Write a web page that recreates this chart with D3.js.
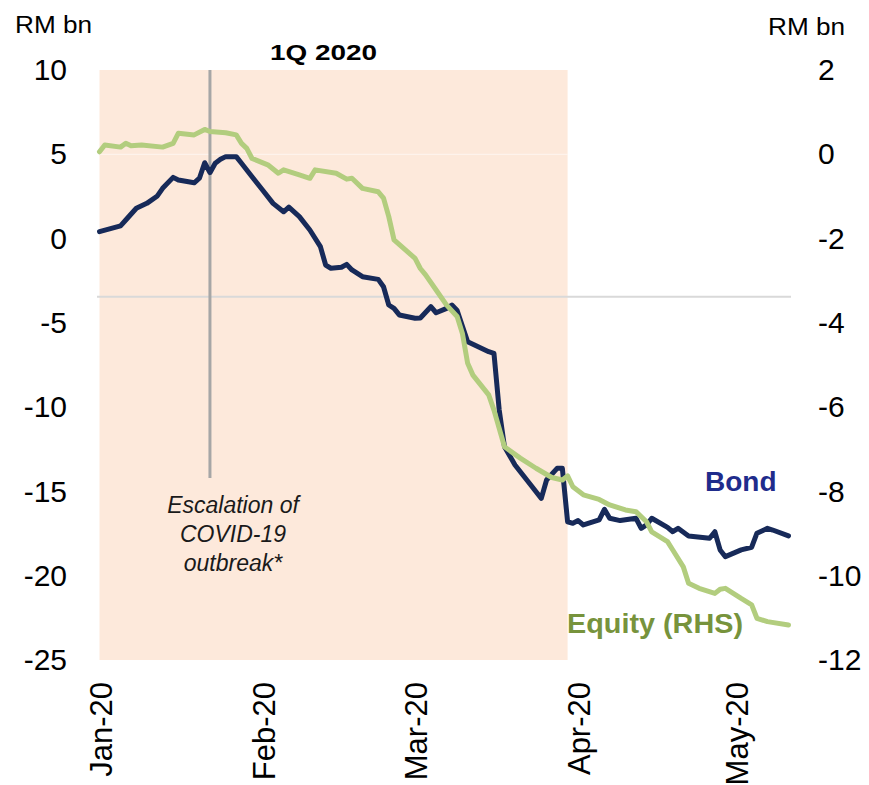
<!DOCTYPE html>
<meta charset="utf-8">
<style>

body { margin: 0; background: #fff; }
svg text { font-family: "Liberation Sans", Arial, sans-serif; fill: #000; }
.axis .domain { display: none; }
.axis line { display: none; }

</style>

<svg width="869" height="785"></svg>

<script src="https://d3js.org/d3.v7.min.js"></script>
<script>

// bond flows, RM bn (left axis)
var bondDates = [
  "2020-01-01","2020-01-05","2020-01-06","2020-01-08","2020-01-10","2020-01-12","2020-01-13",
  "2020-01-15","2020-01-16","2020-01-19","2020-01-20","2020-01-21","2020-01-22","2020-01-23",
  "2020-01-24","2020-01-25","2020-01-27","2020-01-28","2020-01-30","2020-02-01","2020-02-03",
  "2020-02-05","2020-02-06","2020-02-08","2020-02-10","2020-02-12","2020-02-13","2020-02-14",
  "2020-02-16","2020-02-17","2020-02-18","2020-02-20","2020-02-23","2020-02-24","2020-02-25",
  "2020-02-26","2020-02-27","2020-03-01","2020-03-02","2020-03-04","2020-03-05","2020-03-07",
  "2020-03-08","2020-03-09","2020-03-11","2020-03-15","2020-03-16","2020-03-17","2020-03-18",
  "2020-03-20","2020-03-23","2020-03-24","2020-03-25","2020-03-26","2020-03-28","2020-03-29",
  "2020-03-30","2020-03-31","2020-04-01","2020-04-02","2020-04-05","2020-04-06","2020-04-07",
  "2020-04-09","2020-04-12","2020-04-13","2020-04-14","2020-04-15","2020-04-18","2020-04-19",
  "2020-04-20","2020-04-22","2020-04-26","2020-04-27","2020-04-28","2020-04-29","2020-05-02",
  "2020-05-04","2020-05-05","2020-05-07","2020-05-08","2020-05-11"
];
var bondValues = [
  0.41, 0.75, 1.10, 1.80, 2.09, 2.53, 2.98,
  3.63, 3.47, 3.31, 3.58, 4.50, 3.91, 4.47,
  4.70, 4.86, 4.86, 4.47, 3.67, 2.88, 2.09,
  1.59, 1.86, 1.30, 0.51, -0.48, -1.57, -1.76,
  -1.70, -1.53, -1.86, -2.26, -2.42, -2.86, -3.94,
  -4.14, -4.53, -4.73, -4.71, -4.04, -4.40, -4.14,
  -3.94, -4.27, -6.12, -6.71, -6.81, -10.17, -12.35,
  -13.43, -14.62, -15.02, -15.41, -14.32, -13.63, -13.63,
  -16.80, -16.89, -16.73, -16.99, -16.69, -16.06, -16.59,
  -16.73, -16.59, -17.19, -16.99, -16.59, -17.13, -17.39,
  -17.19, -17.64, -17.78, -17.39, -18.47, -18.87, -18.47,
  -18.31, -17.48, -17.19, -17.29, -17.64
];

// equity flows, RM bn (right axis)
var equityDates = [
  "2020-01-01","2020-01-02","2020-01-05","2020-01-06","2020-01-07","2020-01-09","2020-01-13",
  "2020-01-15","2020-01-16","2020-01-19","2020-01-21","2020-01-22","2020-01-25","2020-01-27",
  "2020-01-28","2020-01-29","2020-01-30","2020-02-02","2020-02-04","2020-02-05","2020-02-08",
  "2020-02-10","2020-02-11","2020-02-15","2020-02-17","2020-02-18","2020-02-20","2020-02-23",
  "2020-02-24","2020-02-25","2020-02-26","2020-03-01","2020-03-02","2020-03-03","2020-03-05",
  "2020-03-07","2020-03-09","2020-03-10","2020-03-11","2020-03-12","2020-03-15","2020-03-16",
  "2020-03-18","2020-03-21","2020-03-24","2020-03-27","2020-03-29","2020-03-30","2020-03-31",
  "2020-04-02","2020-04-05","2020-04-07","2020-04-10","2020-04-12","2020-04-14","2020-04-15",
  "2020-04-18","2020-04-19","2020-04-21","2020-04-22","2020-04-24","2020-04-27","2020-04-28",
  "2020-04-29","2020-05-02","2020-05-04","2020-05-05","2020-05-07","2020-05-11"
];
var equityValues = [
  0.06, 0.22, 0.17, 0.26, 0.20, 0.22, 0.17,
  0.26, 0.50, 0.46, 0.59, 0.54, 0.51, 0.46,
  0.26, 0.14, -0.10, -0.25, -0.45, -0.37, -0.49,
  -0.57, -0.37, -0.45, -0.59, -0.57, -0.81, -0.89,
  -1.04, -1.48, -2.03, -2.47, -2.71, -2.86, -3.22,
  -3.58, -3.85, -4.25, -4.96, -5.24, -5.71, -6.07,
  -6.94, -7.21, -7.45, -7.67, -7.73, -7.63, -7.89,
  -8.08, -8.19, -8.32, -8.44, -8.48, -8.72, -8.96,
  -9.19, -9.39, -9.79, -10.18, -10.30, -10.42, -10.32,
  -10.30, -10.54, -10.69, -11.01, -11.09, -11.17
];

var leftTicks = [10, 5, 0, -5, -10, -15, -20, -25];
var rightTicks = [2, 0, -2, -4, -6, -8, -10, -12];
var monthTicks = ["2020-01-01", "2020-02-01", "2020-03-01", "2020-04-01", "2020-05-01"];

var shadeDates = ["2020-01-01", "2020-03-30"];   // 1Q 2020 box
var eventDate = "2020-01-22";                     // escalation of COVID-19
var refLevel = -3.45;                             // grey horizontal line (left axis)

var parse = d3.utcParse("%Y-%m-%d");

var svg = d3.select("svg");

var x = d3.scaleUtc()
  .domain([parse("2020-01-01"), parse("2020-05-01")])
  .range([99.5, 735.9]);

var yL = d3.scaleLinear().domain([-25, 10]).range([660, 70]);
var yR = d3.scaleLinear().domain([-12, 2]).range([660, 70]);

var bond = bondDates.map(function(d, i) { return { date: parse(d), value: bondValues[i] }; });
var equity = equityDates.map(function(d, i) { return { date: parse(d), value: equityValues[i] }; });

// plain hyphen for negatives, like the original
function num(d) { return String(d); }

// shaded quarter
svg.append("rect")
  .attr("x", x(parse(shadeDates[0])))
  .attr("y", yL(10))
  .attr("width", x(parse(shadeDates[1])) - x(parse(shadeDates[0])))
  .attr("height", yL(-25) - yL(10))
  .attr("fill", "#fde9db");

// faint gridline at right-axis zero
svg.append("line")
  .attr("x1", x(parse(shadeDates[0]))).attr("x2", x(parse(shadeDates[1])))
  .attr("y1", yR(0)).attr("y2", yR(0))
  .attr("stroke", "#fff").attr("stroke-opacity", 0.6).attr("stroke-width", 1);

svg.append("line")
  .attr("x1", 97).attr("x2", 791)
  .attr("y1", yL(refLevel)).attr("y2", yL(refLevel))
  .attr("stroke", "#d9d9d9").attr("stroke-width", 2);

svg.append("line")
  .attr("x1", x(parse(eventDate))).attr("x2", x(parse(eventDate)))
  .attr("y1", yL(10)).attr("y2", 478)
  .attr("stroke", "#a6a6a6").attr("stroke-width", 3);

// axes
var leftAxis = svg.append("g")
  .attr("class", "axis")
  .attr("transform", "translate(67,0)")
  .call(d3.axisLeft(yL).tickValues(leftTicks).tickSize(0).tickPadding(0).tickFormat(num));

var rightAxis = svg.append("g")
  .attr("class", "axis")
  .attr("transform", "translate(818,0)")
  .call(d3.axisRight(yR).tickValues(rightTicks).tickSize(0).tickPadding(0).tickFormat(num));

var bottomAxis = svg.append("g")
  .attr("class", "axis")
  .attr("transform", "translate(0,682)")
  .call(d3.axisBottom(x).tickValues(monthTicks.map(parse)).tickSize(0)
    .tickFormat(d3.utcFormat("%b-%y")));

svg.selectAll(".axis text")
  .attr("font-size", 30)
  .attr("font-family", "Liberation Sans, Arial, sans-serif")
  .attr("fill", "#000");

bottomAxis.selectAll("text")
  .attr("font-size", 31)
  .attr("transform", "rotate(-90)")
  .attr("text-anchor", "end")
  .attr("x", 0)
  .attr("y", 11.5)
  .attr("dy", 0);

rightAxis.selectAll("text").attr("text-anchor", "start");

// lines
var lineL = d3.line()
  .x(function(d) { return x(d.date); })
  .y(function(d) { return yL(d.value); });

var lineR = d3.line()
  .x(function(d) { return x(d.date); })
  .y(function(d) { return yR(d.value); });

svg.append("path")
  .datum(bond)
  .attr("d", lineL)
  .attr("fill", "none")
  .attr("stroke", "#172a59")
  .attr("stroke-width", 5)
  .attr("stroke-linejoin", "round")
  .attr("stroke-linecap", "round");

svg.append("path")
  .datum(equity)
  .attr("d", lineR)
  .attr("fill", "none")
  .attr("stroke", "#b2cd7e")
  .attr("stroke-width", 5)
  .attr("stroke-linejoin", "round")
  .attr("stroke-linecap", "round");

// text labels
svg.append("text").attr("x", 15).attr("y", 33).attr("font-size", 23)
  .attr("textLength", 77).attr("lengthAdjust", "spacingAndGlyphs").text("RM bn");

svg.append("text").attr("x", 768).attr("y", 35).attr("font-size", 23)
  .attr("textLength", 77).attr("lengthAdjust", "spacingAndGlyphs").text("RM bn");

svg.append("text").attr("x", 270).attr("y", 60).attr("font-size", 22)
  .attr("font-weight", "bold")
  .attr("textLength", 107).attr("lengthAdjust", "spacingAndGlyphs").text("1Q 2020");

var note = ["Escalation of", "COVID-19", "outbreak*"];
svg.append("g").selectAll("text")
  .data(note)
  .enter()
  .append("text")
  .attr("x", 233)
  .attr("y", function(d, i) { return 512.5 + i * 29; })
  .attr("text-anchor", "middle")
  .attr("font-size", 23)
  .attr("font-style", "italic")
  .style("fill", "#1a1a1a")
  .text(function(d) { return d; });

svg.append("text").attr("x", 705).attr("y", 491).attr("font-size", 28)
  .attr("font-weight", "bold").style("fill", "#1f2c8c").text("Bond");

svg.append("text").attr("x", 567).attr("y", 633).attr("font-size", 27)
  .attr("font-weight", "bold").style("fill", "#77933c")
  .attr("textLength", 176).attr("lengthAdjust", "spacingAndGlyphs").text("Equity (RHS)");

</script>
